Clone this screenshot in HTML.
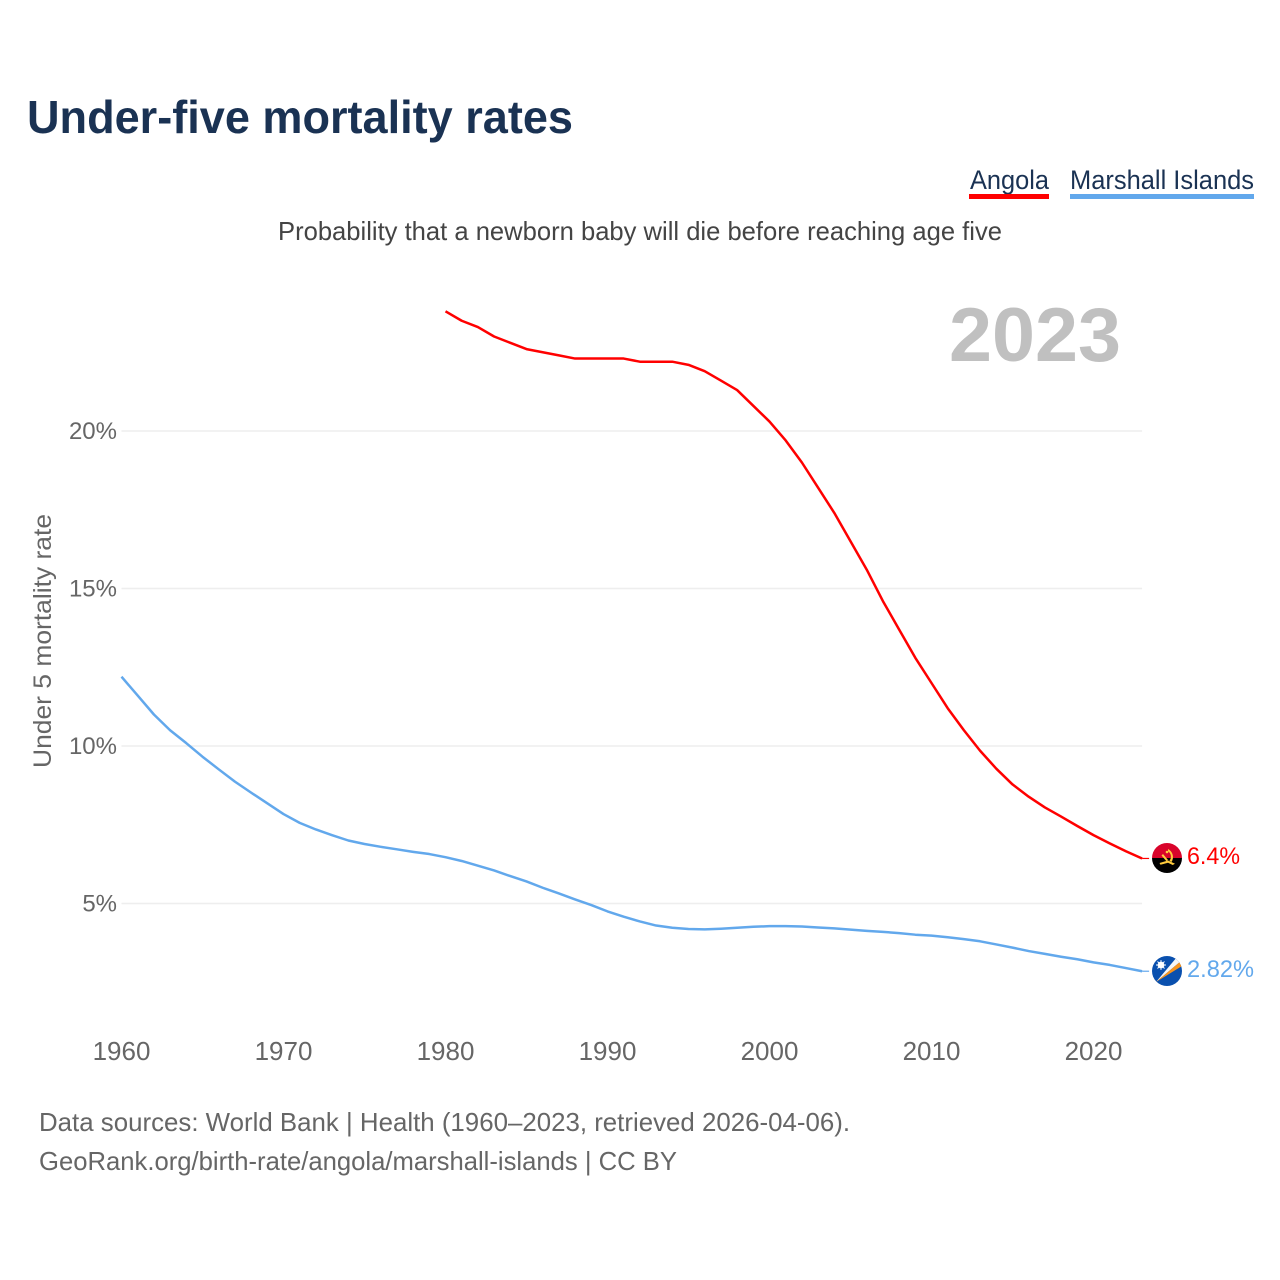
<!DOCTYPE html>
<html lang="en">
<head>
<meta charset="utf-8">
<title>Under-five mortality rates</title>
<style>
html,body{margin:0;padding:0;background:#fff;}
svg{display:block;}
text{font-family:"Liberation Sans",sans-serif;}
</style>
</head>
<body>
<svg id="chart" width="1280" height="1280" viewBox="0 0 1280 1280" xmlns="http://www.w3.org/2000/svg">
  <defs>
    <clipPath id="flag-clip-a"><circle cx="1167" cy="858" r="15"/></clipPath>
    <clipPath id="flag-clip-m"><circle cx="1167" cy="971" r="15"/></clipPath>
  </defs>
  <text x="27" y="133" font-size="46" font-weight="700" fill="#1a3253" textLength="546" lengthAdjust="spacingAndGlyphs">Under-five mortality rates</text>

  <g>
    <text x="970" y="189" font-size="27" fill="#1a3253" textLength="79" lengthAdjust="spacingAndGlyphs">Angola</text>
    <rect x="969" y="194" width="80" height="5" fill="#ff0000"/>
  </g>
  <g>
    <text x="1070" y="189" font-size="27" fill="#1a3253" textLength="184" lengthAdjust="spacingAndGlyphs">Marshall Islands</text>
    <rect x="1070" y="194" width="184" height="5" fill="#62a8ec"/>
  </g>

  <text x="278" y="240" font-size="26" fill="#444444" textLength="724" lengthAdjust="spacingAndGlyphs">Probability that a newborn baby will die before reaching age five</text>
  <text x="949" y="361" font-size="76" font-weight="700" fill="#c0c0c0" textLength="172" lengthAdjust="spacingAndGlyphs">2023</text>

  <g id="grid"></g>
  <g id="yticks"></g>
  <g id="xticks"></g>
  <text transform="translate(51,641) rotate(-90)" text-anchor="middle" font-size="25" fill="#666666" textLength="254" lengthAdjust="spacingAndGlyphs">Under 5 mortality rate</text>

  <path id="line-angola" fill="none" stroke="#ff0000" stroke-width="2.5" stroke-linejoin="round"/>
  <path id="line-marshall" fill="none" stroke="#62a8ec" stroke-width="2.5" stroke-linejoin="round"/>
  <path id="tail-angola" fill="none" stroke="#ff0000" stroke-width="1.2"/>
  <path id="tail-marshall" fill="none" stroke="#62a8ec" stroke-width="1.2"/>

  <g id="flag-angola" clip-path="url(#flag-clip-a)">
    <rect x="1152" y="843" width="30" height="15" fill="#d9042b"/>
    <rect x="1152" y="858" width="30" height="15" fill="#000000"/>
    <path d="M1168 849a9 9 0 0 1 3.500 13l-2-1.300a6.500 6.500 0 0 0-1.500-9.500z" fill="#ffcb3d"/>
    <path d="M1159.500 863l8.500-2.500 7 3.200-2.300 1.300-4.700-2.200-7.500 2z" fill="#ffcb3d"/>
    <path d="M1163 854l5 6-1.500 1.200-5-5.700z" fill="#ffcb3d"/>
    <circle cx="1167" cy="852" r="1.300" fill="#ffcb3d"/>
  </g>
  <g id="flag-marshall" clip-path="url(#flag-clip-m)">
    <rect x="1152" y="956" width="30" height="30" fill="#0a50ae"/>
    <path d="M1156 982L1177 957L1181 961z" fill="#f6f6f6"/>
    <path d="M1156 982L1181 961L1182 966z" fill="#f7941d"/>
    <circle cx="1161" cy="965" r="3.400" fill="#ffffff"/>
    <path d="M1161 960v10M1156 965h10M1157.500 961.500l7 7M1164.500 961.500l-7 7" stroke="#ffffff" stroke-width="0.9"/>
  </g>

  <text id="value-angola" x="1187" y="864" font-size="24" fill="#ff0000" textLength="53" lengthAdjust="spacingAndGlyphs">6.4%</text>
  <text id="value-marshall" x="1187" y="977" font-size="24" fill="#62a8ec" textLength="67" lengthAdjust="spacingAndGlyphs">2.82%</text>

  <text x="39" y="1131" font-size="26" fill="#666666" textLength="811" lengthAdjust="spacingAndGlyphs">Data sources: World Bank | Health (1960–2023, retrieved 2026-04-06).</text>
  <text x="39" y="1170" font-size="26" fill="#666666" textLength="638" lengthAdjust="spacingAndGlyphs">GeoRank.org/birth-rate/angola/marshall-islands | CC BY</text>
</svg>
<script>
const xTickYears = [1960, 1970, 1980, 1990, 2000, 2010, 2020];
const yTickValues = [5, 10, 15, 20];
const angolaStartYear = 1980;
const angolaValues = [23.8, 23.5, 23.3, 23.0, 22.8, 22.6, 22.5, 22.4, 22.3, 22.3, 22.3, 22.3, 22.2, 22.2, 22.2, 22.1, 21.9, 21.6, 21.3, 20.8, 20.3, 19.7, 19.0, 18.2, 17.4, 16.5, 15.6, 14.6, 13.7, 12.8, 12.0, 11.2, 10.5, 9.85, 9.28, 8.78, 8.39, 8.05, 7.76, 7.46, 7.17, 6.91, 6.66, 6.43];
const marshallStartYear = 1960;
const marshallValues = [12.2, 11.6, 11.0, 10.5, 10.09, 9.66, 9.26, 8.87, 8.52, 8.18, 7.84, 7.56, 7.35, 7.17, 7.0, 6.89, 6.8, 6.72, 6.64, 6.57, 6.47, 6.35, 6.2, 6.05, 5.87, 5.7, 5.5, 5.32, 5.13, 4.95, 4.75, 4.58, 4.43, 4.3, 4.23, 4.19, 4.18, 4.2, 4.23, 4.26, 4.28, 4.28, 4.27, 4.24, 4.21, 4.17, 4.13, 4.1, 4.06, 4.01, 3.98, 3.93, 3.87, 3.8, 3.7, 3.6, 3.49, 3.4, 3.31, 3.23, 3.13, 3.05, 2.95, 2.85];

const SVGNS = 'http://www.w3.org/2000/svg';
function xScale(year) { return 121.5 + (year - 1960) * 16.2; }
function yScale(value) { return 903.5 - (value - 5) * 31.5; }
function linePath(values, startYear) {
  return values.map(function (v, i) {
    return (i ? 'L' : 'M') + xScale(startYear + i).toFixed(2) + ' ' + yScale(v).toFixed(2);
  }).join('');
}

const gridGroup = document.getElementById('grid');
const yGroup = document.getElementById('yticks');
const xGroup = document.getElementById('xticks');

yTickValues.forEach(function (v) {
  const line = document.createElementNS(SVGNS, 'line');
  
  
  line.setAttribute('x1', xScale(1960));
  line.setAttribute('x2', xScale(2023));
  line.setAttribute('y1', yScale(v));
  line.setAttribute('y2', yScale(v));
  line.setAttribute('stroke', '#eeeeee');
  line.setAttribute('stroke-width', '1.4');
  gridGroup.appendChild(line);

  const label = document.createElementNS(SVGNS, 'text');
  
  
  label.setAttribute('x', 117);
  label.setAttribute('y', yScale(v) + 8);
  label.setAttribute('text-anchor', 'end');
  label.setAttribute('font-size', '24');
  label.setAttribute('fill', '#666666');
  label.textContent = v + '%';
  yGroup.appendChild(label);
});

xTickYears.forEach(function (year) {
  const label = document.createElementNS(SVGNS, 'text');
  
  
  label.setAttribute('x', xScale(year));
  label.setAttribute('y', 1060);
  label.setAttribute('text-anchor', 'middle');
  label.setAttribute('font-size', '26');
  label.setAttribute('fill', '#666666');
  label.textContent = String(year);
  xGroup.appendChild(label);
});

document.getElementById('line-angola').setAttribute('d', linePath(angolaValues, angolaStartYear));
document.getElementById('line-marshall').setAttribute('d', linePath(marshallValues, marshallStartYear));

const lastAngola = angolaValues[angolaValues.length - 1];
const lastMarshall = marshallValues[marshallValues.length - 1];
document.getElementById('tail-angola').setAttribute('d', 'M' + xScale(2023) + ' ' + yScale(lastAngola) + 'h7');
document.getElementById('tail-marshall').setAttribute('d', 'M' + xScale(2023) + ' ' + yScale(lastMarshall) + 'h7');
</script>
</body>
</html>
